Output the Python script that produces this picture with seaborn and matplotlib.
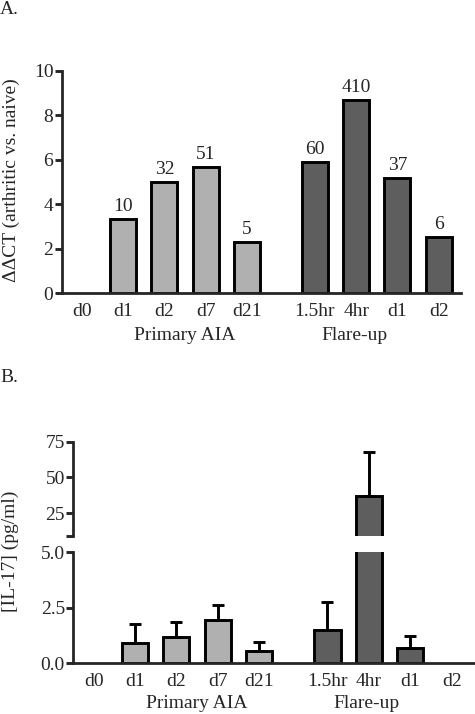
import numpy as np
import pandas as pd
import matplotlib
matplotlib.use('Agg')
import matplotlib.pyplot as plt
import matplotlib.transforms as mtransforms
import seaborn as sns

# %% data
tick_labels = ['d0', 'd1', 'd2', 'd7', 'd21', '1.5hr', '4hr', 'd1', 'd2']
groups = ['Primary AIA'] * 5 + ['Flare-up'] * 4
ddct = [np.nan, 3.33, 4.98, 5.67, 2.28, 5.90, 8.69, 5.19, 2.52]
fold_change = ['', '10', '32', '51', '5', '60', '410', '37', '6']
il17 = [np.nan, 0.89, 1.19, 1.94, 0.54, 1.48, 37.2, 0.68, np.nan]
il17_sem = [np.nan, 0.89, 0.66, 0.69, 0.39, 1.26, 30.5, 0.55, np.nan]

# %% style
sns.set_style('ticks')
plt.rcParams['font.family'] = ['Liberation Serif', 'DejaVu Serif']
plt.rcParams['font.size'] = 14
plt.rcParams['axes.linewidth'] = 2

palette = {'Primary AIA': '#b0b0b0', 'Flare-up': '#5e5e5e'}
FS = 14
LW = 2.1

df = pd.DataFrame({'label': tick_labels, 'group': groups, 'ddct': ddct,
                   'fold': fold_change, 'il17': il17, 'sem': il17_sem})
# extra gap between the two groups
df['pos'] = np.arange(len(df)) + np.where(df['group'] == 'Flare-up', 0.65, 0.0)
group_x = {'Primary AIA': 2.5, 'Flare-up': 6.6}
XLIM = (-0.49, 9.19)

fig = plt.figure(figsize=(4.75, 7.14), dpi=100)


def style_axis(ax, yticks, ylabels, ends, bottom=True):
    sns.despine(ax=ax, bottom=not bottom)
    ax.set_xlim(*XLIM)
    ax.set_yticks(yticks)
    ax.set_yticklabels(ylabels, fontsize=FS)
    ax.set_yticks(ends, minor=True)
    ax.tick_params(axis='y', which='major', direction='out', length=5, width=LW, pad=1)
    ax.tick_params(axis='y', which='minor', direction='in', length=3, width=LW)
    ax.set_xlabel('')
    ax.set_ylabel('')
    if bottom:
        ax.set_xticks(df['pos'])
        ax.set_xticklabels(df['label'], fontsize=FS)
        ax.tick_params(axis='x', length=0, pad=7)
    else:
        ax.set_xticks([])


def draw_bars(ax, col, sem=None):
    d = df.dropna(subset=[col])
    sns.barplot(data=d, x='pos', y=col, hue='group', palette=palette, dodge=False,
                native_scale=True, width=0.63, edgecolor='black', linewidth=LW,
                legend=False, ax=ax)
    if sem is not None:
        ax.errorbar(d['pos'], d[col], yerr=[np.zeros(len(d)), d[sem]], fmt='none',
                    ecolor='black', elinewidth=LW, capsize=4.5, capthick=LW)


# %% A. ddCT
axA = fig.add_axes([0.1299, 0.5896, 0.8406, 0.3110])
draw_bars(axA, 'ddct')
axA.set_ylim(0, 10)
style_axis(axA, range(0, 11, 2), [str(v) for v in range(0, 11, 2)], [10])
for _, r in df.dropna(subset=['ddct']).iterrows():
    axA.annotate(r['fold'], (r['pos'], r['ddct']), xytext=(0, 3),
                 textcoords='offset points', ha='center', va='bottom', fontsize=FS)
trA = mtransforms.blended_transform_factory(axA.transData, axA.transAxes)
for g, x in group_x.items():
    axA.text(x, -0.19, g, transform=trA, ha='center', va='center', fontsize=FS)

# %% B. IL-17 with broken axis
axL = fig.add_axes([0.1543, 0.0714, 0.8437, 0.1551])
axU = fig.add_axes([0.1543, 0.2500, 0.8437, 0.1314])
draw_bars(axL, 'il17', 'sem')
draw_bars(axU, 'il17', 'sem')
axL.set_ylim(0, 5)
axU.set_ylim(9.5, 75)
style_axis(axL, [0, 2.5, 5], ['0.0', '2.5', '5.0'], [5])
style_axis(axU, [9.5, 25, 50, 75], ['', '25', '50', '75'], [9.5, 75], bottom=False)
trB = mtransforms.blended_transform_factory(axL.transData, axL.transAxes)
for g, x in group_x.items():
    axL.text(x, -0.37, g, transform=trB, ha='center', va='center', fontsize=FS)

# %% figure texts
fig.text(0.0246, 0.7472, '\u0394\u0394CT (arthritic vs. naive)', rotation=90,
         ha='center', va='center', fontsize=FS)
fig.text(0.021, 0.228, '[IL-17] (pg/ml)', rotation=90, ha='center', va='center', fontsize=FS)
fig.text(0.0, 1 - 9 / 714, 'A.', ha='left', va='center', fontsize=FS)
fig.text(0.0, 1 - 378 / 714, 'B.', ha='left', va='center', fontsize=FS)

fig.savefig('out.png', dpi=100)
